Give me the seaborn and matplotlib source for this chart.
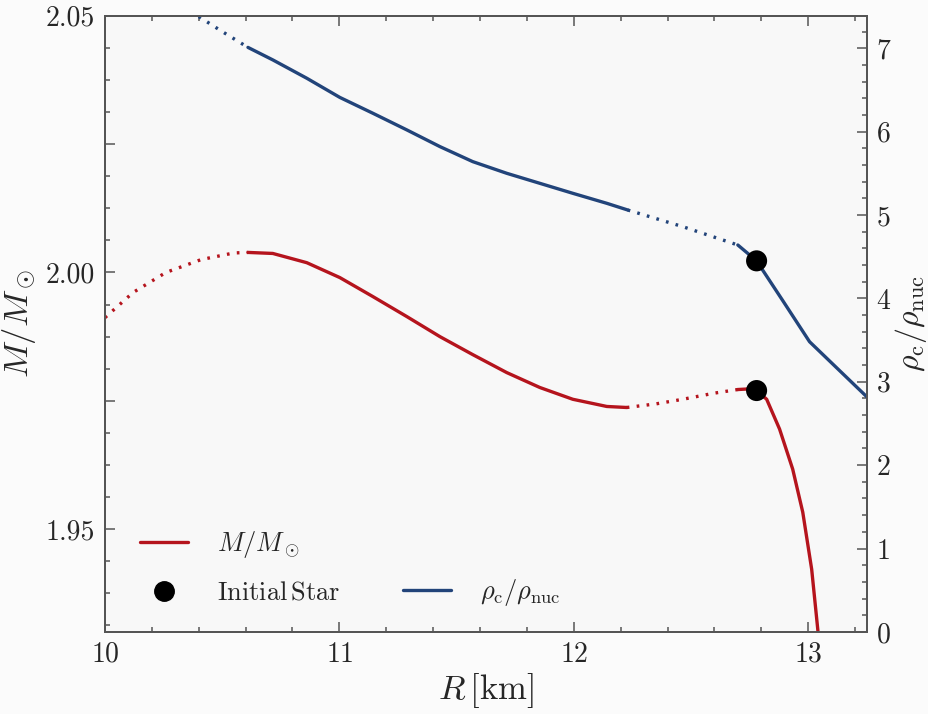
import numpy as np
import pandas as pd
import matplotlib
matplotlib.use("Agg")
import matplotlib.pyplot as plt
from matplotlib.ticker import FixedLocator, FuncFormatter, MultipleLocator
from matplotlib.lines import Line2D
import seaborn as sns

# mass curve M/Msun vs R [km], split into dotted / solid parts
r_mass_dot1 = [10.0, 10.12, 10.26, 10.41, 10.55, 10.61]
m_dot1 = [1.9912, 1.9961, 2.0000, 2.0025, 2.0038, 2.0039]
r_mass_solid1 = [10.61, 10.716, 10.861, 11.002, 11.143, 11.288, 11.429, 11.569,
                 11.714, 11.855, 11.996, 12.141, 12.226]
m_solid1 = [2.0039, 2.0037, 2.0019, 1.9990, 1.9953, 1.9914, 1.9875, 1.9840,
            1.9805, 1.9776, 1.9753, 1.9739, 1.9737]
r_mass_dot2 = [12.226, 12.35, 12.465, 12.60, 12.70]
m_dot2 = [1.9737, 1.9744, 1.9753, 1.9765, 1.9772]
r_mass_solid2 = [12.70, 12.74, 12.78, 12.823, 12.878, 12.934, 12.977, 13.015, 13.041, 13.05]
m_solid2 = [1.9772, 1.9773, 1.9770, 1.9753, 1.9695, 1.9617, 1.9533, 1.9422, 1.9305, 1.926]

# central density rho_c/rho_nuc vs R [km]
r_rho_dot1 = [10.40, 10.50, 10.61]
rho_dot1 = [7.38, 7.20, 7.01]
r_rho_solid1 = [10.61, 10.716, 10.861, 11.002, 11.143, 11.288, 11.429, 11.569,
                11.714, 11.855, 11.996, 12.141, 12.23]
rho_solid1 = [7.01, 6.86, 6.64, 6.41, 6.22, 6.02, 5.82, 5.64,
              5.50, 5.38, 5.26, 5.14, 5.06]
r_rho_dot2 = [12.23, 12.465, 12.70]
rho_dot2 = [5.06, 4.86, 4.64]
r_rho_solid2 = [12.70, 12.78, 12.89, 13.006, 13.25]
rho_solid2 = [4.64, 4.45, 3.98, 3.48, 2.82]

# initial star
star_r = [12.78]
star_m = [1.9770]
star_rho = [4.45]

RED = "#b5141d"
BLUE = "#22447a"

sns.set_theme(style="ticks")
plt.rcParams["font.family"] = ["cmr10", "DejaVu Serif"]
plt.rcParams["mathtext.fontset"] = "cm"
plt.rcParams["axes.formatter.use_mathtext"] = True
plt.rcParams["axes.unicode_minus"] = False

fig = plt.figure(figsize=(9.29, 7.14), dpi=100, facecolor="#fbfbfb")
ax = fig.add_axes([0.113, 0.115, 0.820, 0.863])
ax.set_facecolor("#f8f8f8")
ax2 = ax.twinx()

dot = (0, (0.8, 2.2))
def seg(axis, r, v, color, ls, lw):
    df = pd.DataFrame({"R": r, "v": v})
    sns.lineplot(data=df, x="R", y="v", ax=axis, color=color, lw=lw,
                 linestyle=ls, sort=False, estimator=None)

seg(ax, r_mass_dot1, m_dot1, RED, dot, 2.4)
seg(ax, r_mass_solid1, m_solid1, RED, "-", 2.4)
seg(ax, r_mass_dot2, m_dot2, RED, dot, 2.4)
seg(ax, r_mass_solid2, m_solid2, RED, "-", 2.4)

seg(ax2, r_rho_dot1, rho_dot1, BLUE, dot, 2.4)
seg(ax2, r_rho_solid1, rho_solid1, BLUE, "-", 2.4)
seg(ax2, r_rho_dot2, rho_dot2, BLUE, dot, 2.4)
seg(ax2, r_rho_solid2, rho_solid2, BLUE, "-", 2.4)

sns.scatterplot(x=star_r, y=star_m, ax=ax, color="black", s=230, zorder=5, edgecolor="none")
sns.scatterplot(x=star_r, y=star_rho, ax=ax2, color="black", s=230, zorder=5, edgecolor="none")

ax.set_xlim(10, 13.25)
ax.set_ylim(1.93, 2.05)
ax2.set_ylim(0, 7.39)

ax.xaxis.set_major_locator(FixedLocator([10, 11, 12, 13]))
ax.xaxis.set_minor_locator(MultipleLocator(0.2))
ax.yaxis.set_major_locator(FixedLocator([1.95, 1.975, 2.0, 2.025, 2.05]))
ax.yaxis.set_major_formatter(FuncFormatter(
    lambda v, p: f"{v:.2f}" if abs(round(v / 0.05) * 0.05 - v) < 1e-6 else ""))
ax.yaxis.set_minor_locator(MultipleLocator(0.00625))
ax2.yaxis.set_major_locator(FixedLocator(range(0, 8)))
ax2.yaxis.set_minor_locator(MultipleLocator(0.2))

spine_col = "#555555"
for a in (ax, ax2):
    for s in a.spines.values():
        s.set_color(spine_col)
        s.set_linewidth(1.4)
    a.tick_params(which="both", direction="in", color=spine_col, labelsize=20, width=1.1)
    a.tick_params(which="major", length=7, pad=7)
    a.tick_params(which="minor", length=3.5)
ax.tick_params(axis="x", which="both", top=True)
ax.tick_params(axis="y", which="both", right=False)
ax2.tick_params(axis="y", which="both", left=False, right=True)

ax.set_xlabel(r"$R\,[\mathrm{km}]$", fontsize=25, labelpad=2)
ax.set_ylabel(r"$M/M_\odot$", fontsize=25, labelpad=6)
ax2.set_ylabel(r"$\rho_\mathrm{c}/\rho_\mathrm{nuc}$", fontsize=23, labelpad=1)

handles = [
    Line2D([], [], color=RED, lw=2.4),
    Line2D([], [], color="black", marker="o", ms=14, ls="none"),
    Line2D([], [], color="none"),
    Line2D([], [], color=BLUE, lw=2.4),
]
labels = [r"$M/M_\odot$", r"$\mathrm{Initial\,Star}$", "", r"$\rho_\mathrm{c}/\rho_\mathrm{nuc}$"]
ax2.legend(handles, labels, ncol=2, frameon=False, fontsize=19, loc="lower left",
           bbox_to_anchor=(0.015, 0.0), handlelength=1.8, handletextpad=1.1,
           columnspacing=2.4, labelspacing=0.8)

fig.savefig("out.png", dpi=100, facecolor=fig.get_facecolor())
